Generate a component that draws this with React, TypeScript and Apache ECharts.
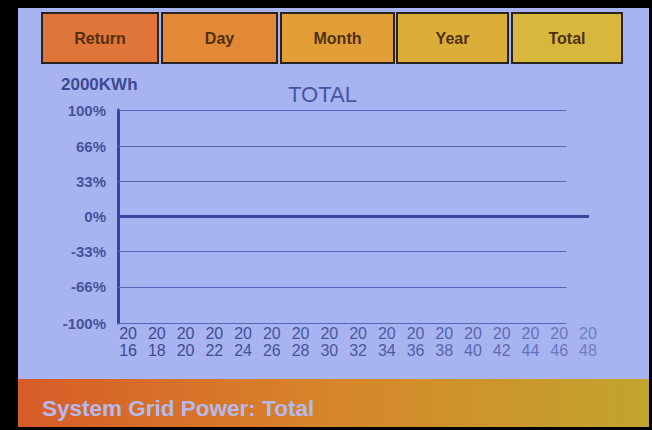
import React, { useEffect, useRef } from "react";
import * as echarts from "echarts";

const years = [2016, 2018, 2020, 2022, 2024, 2026, 2028, 2030, 2032, 2034, 2036, 2038, 2040, 2042, 2044, 2046, 2048];
const totalValues = [0, 0, 0, 0, 0, 0, 0, 0, 0, 0, 0, 0, 0, 0, 0, 0, 0];
const yTickValues = [100, 66, 33, 0, -33, -66, -100];
const gridLineValues = [100, 66, 33, -33, -66, -100];
const buttonLabels = ["Return", "Day", "Month", "Year", "Total"];
const unitLabel = "2000KWh";
const chartTitle = "TOTAL";
const footerText = "System Grid Power: Total";

const buttonBoxes = [
  { x: 42, w: 116, fill: "#df7538" },
  { x: 162, w: 115, fill: "#e28836" },
  { x: 281, w: 113, fill: "#e19e36" },
  { x: 397, w: 111, fill: "#dbae3a" },
  { x: 512, w: 110, fill: "#d8b83c" },
];

const labelFade = ["#3c4890", "#3e4a92", "#404c94", "#424e96", "#445098", "#46529a", "#48549c", "#4a569e", "#4c58a0", "#4e5aa4", "#525ea8", "#5662ac", "#5a66b0", "#5e6ab4", "#6470ba", "#6a76c0", "#707cc6"];

export default function App() {
  const ref = useRef<HTMLDivElement>(null);
  useEffect(() => {
    if (!ref.current) return;
    const chart = echarts.init(ref.current, null, { renderer: "svg" });
    const xMin = 2015.3;
    const xMax = 2048.07;
    const gridEnd = 2046.5;
    const graphics: any[] = [
      { type: "rect", z: -10, shape: { x: 18, y: 8, width: 631, height: 419 }, style: { fill: "#a8b4f1" }, silent: true },
      {
        type: "rect",
        z: -9,
        shape: { x: 18, y: 379, width: 631, height: 48 },
        style: {
          fill: new echarts.graphic.LinearGradient(0, 0, 1, 0, [
            { offset: 0, color: "#d75c28" },
            { offset: 0.5, color: "#d7862b" },
            { offset: 1, color: "#c2a42e" },
          ]),
        },
        silent: true,
      },
      {
        type: "text",
        left: 42,
        top: 397,
        style: { text: footerText, font: "bold 22.5px 'Liberation Sans', Arial, sans-serif", fill: "#b6b9ee" },
      },
      {
        type: "text",
        left: 61,
        top: 76,
        style: { text: unitLabel, font: "bold 17px 'Liberation Sans', Arial, sans-serif", fill: "#3e4a92" },
      },
    ];
    buttonLabels.forEach((lbl, i) => {
      const b = buttonBoxes[i];
      graphics.push({
        type: "rect",
        shape: { x: b.x, y: 13, width: b.w, height: 50 },
        style: { fill: b.fill, stroke: "#2a2420", lineWidth: 2 },
        silent: true,
      });
      graphics.push({
        type: "text",
        x: b.x + b.w / 2,
        y: 38,
        style: {
          text: lbl,
          font: "bold 16px 'Liberation Sans', Arial, sans-serif",
          fill: "#52300f",
          align: "center",
          verticalAlign: "middle",
        },
      });
    });

    chart.setOption({
      animation: false,
      backgroundColor: "#000000",
      title: {
        text: chartTitle,
        left: 283,
        top: 78,
        textStyle: { fontFamily: "'Liberation Sans', Arial, sans-serif", fontSize: 22, fontWeight: "normal", color: "#4654a4" },
      },
      graphic: graphics,
      grid: { left: 118, right: 63, top: 110, bottom: 107, containLabel: false },
      xAxis: {
        type: "value",
        min: xMin,
        max: xMax,
        axisLine: { show: false },
        axisTick: { show: false },
        splitLine: { show: false },
        axisLabel: {
          customValues: years,
          margin: 2,
          fontFamily: "'Liberation Sans', Arial, sans-serif",
          fontSize: 16,
          lineHeight: 17,
          color: (v: number) => labelFade[years.indexOf(Math.round(v))] || "#3c4890",
          formatter: (v: number) => {
            const s = String(Math.round(v));
            return s.slice(0, 2) + "\n" + s.slice(2);
          },
        },
      },
      yAxis: {
        type: "value",
        min: -100,
        max: 100,
        axisLine: { show: true, onZero: false, lineStyle: { color: "#3a4498", width: 3 } },
        axisTick: { show: false },
        splitLine: { show: false },
        axisLabel: {
          customValues: yTickValues,
          margin: 12,
          fontFamily: "'Liberation Sans', Arial, sans-serif",
          fontSize: 15,
          fontWeight: "bold",
          color: "#46529a",
          formatter: (v: number) => `${v}%`,
        },
      },
      series: [
        {
          type: "line",
          data: years.map((y, i) => [y, totalValues[i]]),
          symbol: "none",
          lineStyle: { color: "#3a46a0", width: 3 },
          markLine: {
            silent: true,
            symbol: "none",
            label: { show: false },
            data: [
              [
                { coord: [xMin, 0], lineStyle: { color: "#3a46a0", width: 3, type: "solid" } },
                { coord: [xMax, 0] },
              ],
              ...gridLineValues.map((g) => [
                { coord: [xMin, g], lineStyle: { color: "#5766b8", width: 1, type: "solid" } },
                { coord: [gridEnd, g] },
              ]),
            ],
          },
        },
      ],
    });
    return () => chart.dispose();
  }, []);
  return <div ref={ref} style={{ position: "fixed", left: 0, top: 0, width: 652, height: 430 }} />;
}
